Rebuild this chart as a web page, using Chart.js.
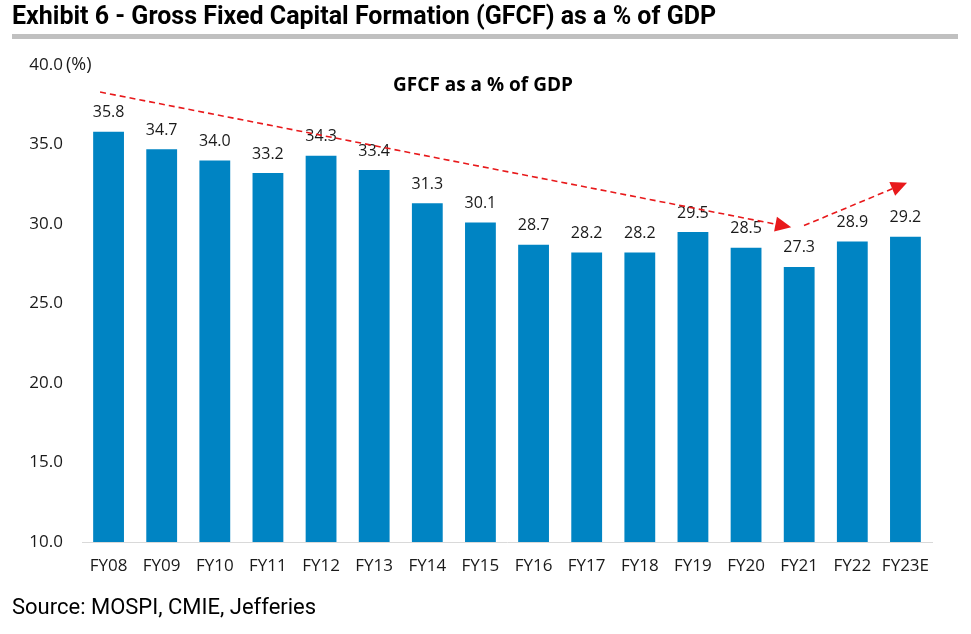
<!DOCTYPE html>
<html>
<head>
<meta charset="utf-8">
<script src="https://cdn.jsdelivr.net/npm/chart.js@4.4.1/dist/chart.umd.min.js"></script>
<style>
  html, body { margin: 0; padding: 0; background: #fff; }
  #wrap { position: relative; width: 971px; height: 634px; overflow: hidden; }
  #title { position: absolute; left: 12px; top: 1px; font-family: "Roboto", sans-serif; font-weight: bold; font-size: 25px; color: #000; white-space: nowrap; }
  #rule { position: absolute; left: 12px; top: 34px; width: 946px; height: 5px; background: #c0c0c0; }
  #subtitle { position: absolute; left: 333px; top: 71px; width: 300px; text-align: center; font-family: "Open Sans", sans-serif; font-weight: bold; font-size: 19px; color: #000; }
  #source { position: absolute; left: 12px; top: 594px; font-family: "Roboto", sans-serif; font-size: 22px; color: #000; white-space: nowrap; }
  canvas { position: absolute; left: 0; top: 0; }
</style>
</head>
<body>
<div id="wrap">
  <canvas id="c" width="971" height="634"></canvas>
  <div id="title">Exhibit 6 - Gross Fixed Capital Formation (GFCF) as a % of GDP</div>
  <div id="rule"></div>
  <div id="subtitle">GFCF as a % of GDP</div>
  <div id="source">Source: MOSPI, CMIE, Jefferies</div>
</div>
<script>
const categories = ["FY08","FY09","FY10","FY11","FY12","FY13","FY14","FY15","FY16","FY17","FY18","FY19","FY20","FY21","FY22","FY23E"];
const gfcfValues = [35.8,34.7,34.0,33.2,34.3,33.4,31.3,30.1,28.7,28.2,28.2,29.5,28.5,27.3,28.9,29.2];
const yTicks = [10,15,20,25,30,35,40];
const yUnitLabel = "(%)";
// trend arrows in data space: [categoryIndex, value]
const trendArrowStart = [[-0.16, 38.3], [13.09, 29.9]];
const trendArrowEnd = [[12.85, 29.8], [15.03, 32.6]];

const BAR_COLOR = "#0084c3";
const ARROW_COLOR = "#e8191b";

const overlay = {
  id: "overlay",
  afterDatasetsDraw(chart) {
    const ctx = chart.ctx;
    const xs = chart.scales.x, ys = chart.scales.y;
    const meta = chart.getDatasetMeta(0);
    ctx.save();
    ctx.font = "16px 'Open Sans', sans-serif";
    ctx.fillStyle = "#1a1a1a";
    ctx.textAlign = "center";
    ctx.textBaseline = "middle";
    meta.data.forEach((bar, i) => {
      ctx.fillText(gfcfValues[i].toFixed(1), bar.x, bar.y - 19);
    });
    ctx.font = "18px 'Open Sans', sans-serif";
    ctx.textAlign = "left";
    ctx.fillText(yUnitLabel, 66, ys.getPixelForValue(yTicks[yTicks.length - 1]));
    const idxToPx = (v) => {
      const p0 = xs.getPixelForValue(0), p1 = xs.getPixelForValue(1);
      return p0 + (p1 - p0) * v;
    };
    trendArrowStart.forEach((s, k) => {
      const e = trendArrowEnd[k];
      const x1 = idxToPx(s[0]), y1 = ys.getPixelForValue(s[1]);
      const x2 = idxToPx(e[0]), y2 = ys.getPixelForValue(e[1]);
      const ang = Math.atan2(y2 - y1, x2 - x1);
      const headLen = 16, headW = 7.5;
      const bx = x2 - headLen * Math.cos(ang), by = y2 - headLen * Math.sin(ang);
      ctx.strokeStyle = ARROW_COLOR;
      ctx.lineWidth = 1.6;
      ctx.setLineDash([6, 4]);
      ctx.beginPath();
      ctx.moveTo(x1, y1);
      ctx.lineTo(bx, by);
      ctx.stroke();
      ctx.setLineDash([]);
      ctx.fillStyle = ARROW_COLOR;
      ctx.beginPath();
      ctx.moveTo(x2, y2);
      ctx.lineTo(bx + headW * Math.sin(ang), by - headW * Math.cos(ang));
      ctx.lineTo(bx - headW * Math.sin(ang), by + headW * Math.cos(ang));
      ctx.closePath();
      ctx.fill();
    });
    ctx.restore();
  }
};

new Chart(document.getElementById("c"), {
  type: "bar",
  data: {
    labels: categories,
    datasets: [{
      data: gfcfValues,
      backgroundColor: BAR_COLOR,
      borderWidth: 0,
      barPercentage: 0.58,
      categoryPercentage: 1.0
    }]
  },
  options: {
    responsive: false,
    animation: false,
    devicePixelRatio: 1,
    layout: { padding: { top: 65, right: 39, bottom: 0, left: 0 } },
    plugins: { legend: { display: false }, tooltip: { enabled: false }, title: { display: false } },
    scales: {
      x: {
        grid: { display: false, drawTicks: false },
        border: { display: true, color: "#d9d9d9", width: 1 },
        ticks: { color: "#1a1a1a", font: { family: "'Open Sans', sans-serif", size: 17 }, padding: 14, maxRotation: 0, autoSkip: false },
        afterFit(scale) { scale.height = 92; }
      },
      y: {
        min: 10, max: 40,
        afterBuildTicks(scale) { scale.ticks = yTicks.map(v => ({ value: v })); },
        grid: { display: false, drawTicks: false },
        border: { display: false },
        ticks: { color: "#1a1a1a", font: { family: "'Open Sans', sans-serif", size: 17 }, padding: 19, callback: (v) => Number(v).toFixed(1) },
        afterFit(scale) { scale.width = 82; }
      }
    }
  },
  plugins: [overlay]
});
</script>
</body>
</html>
